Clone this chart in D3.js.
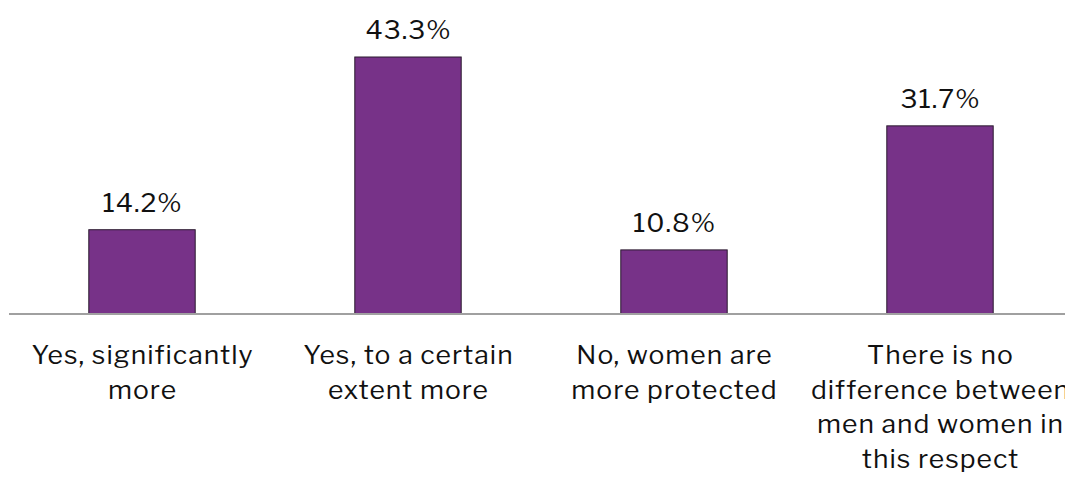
<!DOCTYPE html>
<html><head><meta charset="utf-8">
<script src="https://cdn.jsdelivr.net/npm/d3@7/dist/d3.min.js"></script>
<style>body{margin:0;background:#fff}svg{display:block}</style>
</head><body><svg id="c" width="1065" height="477"></svg>
<script>
const categories = [
  ["Yes, significantly", "more"],
  ["Yes, to a certain", "extent more"],
  ["No, women are", "more protected"],
  ["There is no", "difference between", "men and women in", "this respect"]
];
const values = [14.2, 43.3, 10.8, 31.7];
const valueLabels = ["14.2%", "43.3%", "10.8%", "31.7%"];

const svg = d3.select("#c");
const baseY = 314;
const x = d3.scaleBand().domain(d3.range(values.length)).range([9, 1073]).paddingInner(0.6).paddingOuter(0.3);
const y = d3.scaleLinear().domain([0, 43.3]).range([baseY, 57]);
const font = "'Libre Franklin','Franklin Gothic Book','Noto Sans',sans-serif";

svg.selectAll("rect.bar").data(values).join("rect")
  .attr("x", (d,i) => x(i)).attr("y", d => y(d))
  .attr("width", x.bandwidth()).attr("height", d => baseY - y(d))
  .attr("fill", "#773288").attr("stroke", "#2a1a2e").attr("stroke-width", 1);

svg.append("line").attr("x1", 9).attr("x2", 1065).attr("y1", baseY).attr("y2", baseY)
  .attr("stroke", "#a0a0a0").attr("stroke-width", 2);

svg.selectAll("text.val").data(values).join("text")
  .attr("x", (d,i) => x(i) + x.bandwidth()/2 + 0.5).attr("y", d => y(d) - 18)
  .attr("text-anchor", "middle").attr("font-family", font).attr("font-size", 26.5)
  .attr("letter-spacing", 1)
  .attr("fill", "#111").text((d,i) => valueLabels[i]);

categories.forEach((lines, i) => {
  const t = svg.append("text").attr("text-anchor", "middle").attr("font-family", font)
    .attr("font-size", 26.5).attr("letter-spacing", 1).attr("fill", "#111");
  lines.forEach((l, j) => {
    t.append("tspan").attr("x", x(i) + x.bandwidth()/2 + 0.5).attr("y", 364 + j*34.7).text(l);
  });
});
</script></body></html>
